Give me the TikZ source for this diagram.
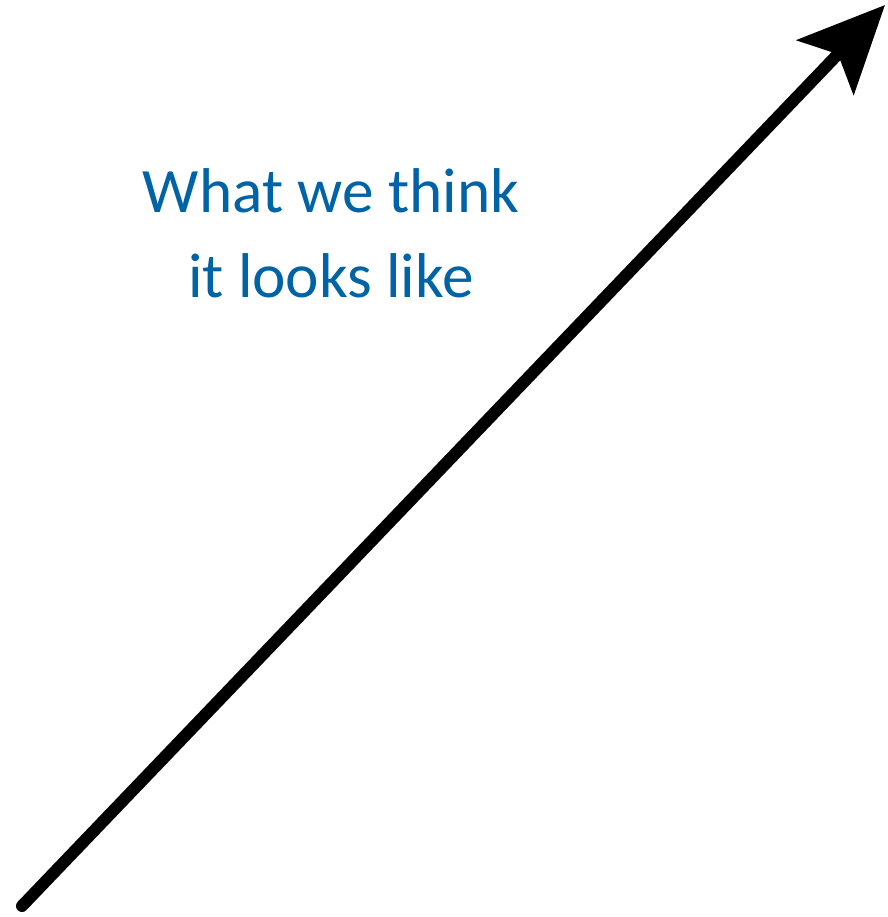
\documentclass[tikz,border=0pt]{standalone}
\usepackage{fontspec}
\setmainfont{Carlito}
\usepackage{xcolor}
\usetikzlibrary{arrows.meta,positioning}
\definecolor{textblue}{RGB}{0,99,166}
\tikzset{
  bigarrow/.style={line width=0.3cm,line cap=round,-{Stealth[length=2.15cm,width=1.95cm,inset=0.45cm]}},
  caption/.style={text=textblue,inner sep=0pt,font=\fontsize{45}{60}\selectfont}
}

\begin{document}
\begin{tikzpicture}[x=0.025cm,y=0.025cm]
\useasboundingbox (0,0) rectangle (888,917);
\coordinate (tail) at (22,11);
\coordinate (head) at (885,912);
\draw[bigarrow] (tail) -- (head);
\node[caption,anchor=base] (think) at (331,704) {What we think};
\node[caption,anchor=base] (looks) at (331,619) {it looks like};
\end{tikzpicture}
\end{document}
